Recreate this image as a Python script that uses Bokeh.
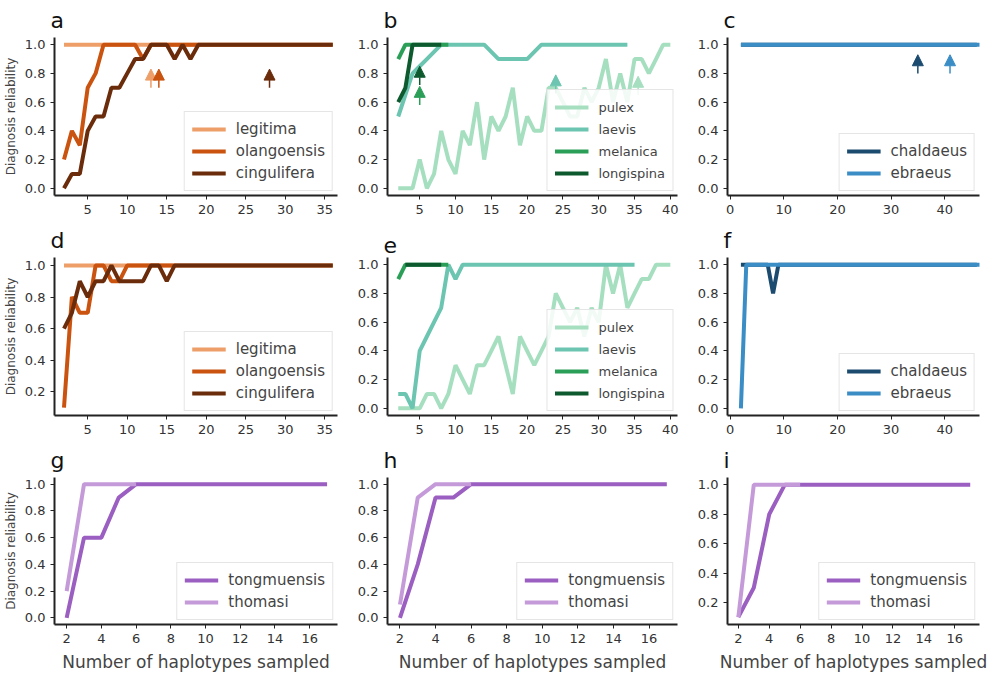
from bokeh.plotting import figure
from bokeh.layouts import gridplot
from bokeh.models import (Arrow, NormalHead, Range1d, FixedTicker, Legend, LegendItem,
                          CustomJSTickFormatter)
from bokeh.embed import file_html
from bokeh.resources import INLINE

# ---------- data ----------
FONT = "DejaVu Sans"

ones = lambda a, b: [1.0] * (b - a + 1)

a_x_legitima = list(range(2, 20))
a_legitima = ones(2, 19)
a_x_olang = list(range(2, 37))
a_olang = [0.2, 0.4, 0.3, 0.7, 0.8, 1.0, 1.0, 1.0, 1.0, 1.0, 0.9] + ones(13, 36)
a_x_cing = list(range(2, 37))
a_cing = [0.0, 0.1, 0.1, 0.4, 0.5, 0.5, 0.7, 0.7, 0.8, 0.9, 0.9, 1.0, 1.0, 1.0,
          0.9, 1.0, 0.9] + ones(19, 36)
a_arrows = [(13, 0.70, "legitima"), (14, 0.70, "olangoensis"), (28, 0.70, "cingulifera")]

b_x_pulex = list(range(2, 41))
b_pulex = [0.0, 0.0, 0.0, 0.2, 0.0, 0.1, 0.4, 0.2, 0.1, 0.4, 0.3, 0.6, 0.2, 0.5,
           0.4, 0.5, 0.7, 0.3, 0.5, 0.4, 0.4, 0.7, 0.7, 0.6, 0.5, 0.5, 0.7, 0.6,
           0.7, 0.9, 0.6, 0.8, 0.6, 0.9, 0.9, 0.8, 0.9, 1.0, 1.0]
b_x_laevis = list(range(2, 35))
b_laevis = [0.5, 0.65, 0.8, 0.85, 0.9, 0.95] + ones(8, 14) + [0.95, 0.9, 0.9, 0.9,
            0.9, 0.9, 0.95] + ones(22, 34)
b_x_melanica = list(range(2, 10))
b_melanica = [0.9] + ones(3, 9)
b_x_longi = list(range(2, 9))
b_longi = [0.6, 0.7] + ones(4, 8)
b_arrows = [(5, 0.58, "melanica"), (5, 0.72, "longispina"), (24, 0.66, "laevis"),
            (35.5, 0.65, "pulex")]

c_x_chald = list(range(2, 47))
c_chald = ones(2, 46)
c_x_ebr = list(range(2, 48))
c_ebr = ones(2, 47)
c_arrows = [(35, 0.8, "chaldaeus"), (41, 0.8, "ebraeus")]

d_x_legitima = list(range(2, 17))
d_legitima = ones(2, 16)
d_x_olang = list(range(2, 37))
d_olang = [0.1, 0.8, 0.7, 0.7, 1.0, 1.0, 0.9, 0.9] + ones(10, 36)
d_x_cing = list(range(2, 37))
d_cing = [0.6, 0.7, 0.9, 0.8, 0.9, 0.9, 1.0, 0.9, 0.9, 0.9, 0.9, 1.0, 1.0, 0.9] + ones(16, 36)

e_x_pulex = list(range(2, 41))
e_pulex = [0.0, 0.0, 0.0, 0.0, 0.1, 0.1, 0.0, 0.1, 0.3, 0.2, 0.1, 0.3, 0.3, 0.4,
           0.5, 0.3, 0.1, 0.5, 0.4, 0.3, 0.4, 0.5, 0.8, 0.7, 0.6, 0.7, 0.5, 0.7,
           0.6, 1.0, 0.8, 1.0, 0.7, 0.8, 0.9, 0.9, 1.0, 1.0, 1.0]
e_x_laevis = list(range(2, 36))
e_laevis = [0.1, 0.1, 0.0, 0.4, 0.5, 0.6, 0.7, 1.0, 0.9] + ones(11, 35)
e_x_melanica = list(range(2, 10))
e_melanica = [0.9] + ones(3, 9)
e_x_longi = list(range(3, 9))
e_longi = ones(3, 8)

f_x_chald = list(range(2, 47))
f_chald = [1.0] * 6 + [0.8] + ones(9, 46)
f_x_ebr = list(range(2, 48))
f_ebr = [0.0] + ones(3, 47)

g_x_tong = list(range(2, 18))
g_tong = [0.0, 0.6, 0.6, 0.9] + ones(6, 17)
h_tong = [0.0, 0.4, 0.9, 0.9] + ones(6, 17)
i_tong = [0.1, 0.3, 0.8] + ones(5, 17)
g_x_thom = list(range(2, 7))
g_thom = [0.2] + ones(3, 6)
h_thom = [0.1, 0.9] + ones(4, 6)
i_thom = [0.1] + ones(3, 6)

COL = {"legitima": "#ee9e68", "olangoensis": "#c9530f", "cingulifera": "#6b2c0b",
       "pulex": "#a6dfc0", "laevis": "#6cc5b0", "melanica": "#2b9e58",
       "longispina": "#0e5a2f", "chaldaeus": "#1c4b70", "ebraeus": "#3a8dc5",
       "tongmuensis": "#9b5ec1", "thomasi": "#c59ad9"}


def panel(letter, w, h, xr, xt, yr, yt, series, legend_names, arrows=(),
          ylabel=False, xlabel=False, legend_size="15px"):
    p = figure(width=w, height=h, output_backend="svg", toolbar_location=None,
               x_range=Range1d(*xr), y_range=Range1d(*yr),
               min_border_left=52 if ylabel else 42, min_border_right=8,
               min_border_top=30, min_border_bottom=52 if xlabel else 25)
    p.title.text = letter
    p.title.text_font = FONT
    p.title.text_font_size = "22px"
    p.title.text_font_style = "normal"
    p.title.text_color = "#111111"
    p.title.offset = -4
    p.xgrid.visible = False
    p.ygrid.visible = False
    p.outline_line_color = None
    for ax in (p.xaxis[0], p.yaxis[0]):
        ax.axis_line_width = 2
        ax.axis_line_color = "#222222"
        ax.major_tick_line_color = "#222222"
        ax.minor_tick_line_color = None
        ax.major_tick_in = 0
        ax.major_tick_out = 4
        ax.major_label_text_font = FONT
        ax.major_label_text_font_size = "13px"
        ax.major_label_text_color = "#333333"
    p.xaxis.ticker = FixedTicker(ticks=xt)
    p.yaxis.ticker = FixedTicker(ticks=yt)
    p.yaxis.formatter = CustomJSTickFormatter(code="return tick.toFixed(1);")
    if ylabel:
        p.yaxis.axis_label = "Diagnosis reliability"
        p.yaxis.axis_label_text_font = FONT
        p.yaxis.axis_label_text_font_size = "12px"
        p.yaxis.axis_label_text_font_style = "normal"
        p.yaxis.axis_label_standoff = 4
    if xlabel:
        p.xaxis.axis_label = "Number of haplotypes sampled"
        p.xaxis.axis_label_text_font = FONT
        p.xaxis.axis_label_text_font_size = "17px"
        p.xaxis.axis_label_text_font_style = "normal"
        p.xaxis.axis_label_standoff = 6
    rends = {}
    for name, xs, ys in series:
        rends[name] = p.line(xs, ys, line_color=COL[name], line_width=4)
    for ax_, ay, name in arrows:
        p.add_layout(Arrow(end=NormalHead(size=11, fill_color=COL[name],
                                          line_color=COL[name], line_width=1),
                           x_start=ax_, y_start=ay, x_end=ax_, y_end=ay + 0.13,
                           line_color=COL[name], line_width=1.5))
    leg = Legend(items=[LegendItem(label=n, renderers=[rends[n]]) for n in legend_names],
                 location="bottom_right", label_text_font=FONT,
                 label_text_font_size=legend_size, border_line_color="#cccccc",
                 border_line_width=1, glyph_width=34, label_height=16, spacing=2,
                 padding=7, label_standoff=10, margin=4,
                 background_fill_alpha=0.85)
    p.add_layout(leg)
    return p


W1, W2, W3 = 345, 340, 302
H1, H2, H3 = 220, 220, 236
yt6 = [0.0, 0.2, 0.4, 0.6, 0.8, 1.0]
yt5 = [0.2, 0.4, 0.6, 0.8, 1.0]
t5 = [5, 10, 15, 20, 25, 30, 35]
t40 = t5 + [40]
t10 = [0, 10, 20, 30, 40]
t2 = [2, 4, 6, 8, 10, 12, 14, 16]
amber = ["legitima", "olangoensis", "cingulifera"]
green = ["pulex", "laevis", "melanica", "longispina"]
blue = ["chaldaeus", "ebraeus"]
purple = ["tongmuensis", "thomasi"]

pa = panel("a", W1, H1, (0.8, 36.6), t5, (-0.05, 1.05), yt6,
           [("legitima", a_x_legitima, a_legitima), ("olangoensis", a_x_olang, a_olang),
            ("cingulifera", a_x_cing, a_cing)], amber, a_arrows, ylabel=True)
pb = panel("b", W2, H1, (0.5, 41), t40, (-0.05, 1.05), yt6,
           [("pulex", b_x_pulex, b_pulex), ("laevis", b_x_laevis, b_laevis),
            ("melanica", b_x_melanica, b_melanica), ("longispina", b_x_longi, b_longi)],
           green, b_arrows, legend_size="13px")
pc = panel("c", W3, H1, (-0.5, 46.5), t10, (-0.05, 1.05), yt6,
           [("chaldaeus", c_x_chald, c_chald), ("ebraeus", c_x_ebr, c_ebr)],
           blue, c_arrows)
pd = panel("d", W1, H2, (0.8, 36.6), t5, (0.05, 1.05), yt5,
           [("legitima", d_x_legitima, d_legitima), ("olangoensis", d_x_olang, d_olang),
            ("cingulifera", d_x_cing, d_cing)], amber, ylabel=True)
pe = panel("e", W2, H2, (0.5, 41), t40, (-0.05, 1.05), yt6,
           [("pulex", e_x_pulex, e_pulex), ("laevis", e_x_laevis, e_laevis),
            ("melanica", e_x_melanica, e_melanica), ("longispina", e_x_longi, e_longi)],
           green, legend_size="13px")
pf = panel("f", W3, H2, (-0.5, 46.5), t10, (-0.05, 1.05), yt6,
           [("chaldaeus", f_x_chald, f_chald), ("ebraeus", f_x_ebr, f_ebr)], blue)
pg = panel("g", W1, H3, (1.3, 17.6), t2, (-0.05, 1.05), yt6,
           [("tongmuensis", g_x_tong, g_tong), ("thomasi", g_x_thom, g_thom)],
           purple, ylabel=True, xlabel=True)
ph = panel("h", W2, H3, (1.3, 17.6), t2, (-0.05, 1.05), yt6,
           [("tongmuensis", g_x_tong, h_tong), ("thomasi", g_x_thom, h_thom)],
           purple, xlabel=True)
pi_ = panel("i", W3, H3, (1.3, 17.6), t2, (0.05, 1.05), yt5,
            [("tongmuensis", g_x_tong, i_tong), ("thomasi", g_x_thom, i_thom)],
            purple, xlabel=True)

p = gridplot([[pa, pb, pc], [pd, pe, pf], [pg, ph, pi_]], toolbar_location=None)
open("out.html", "w").write(file_html(p, INLINE))
